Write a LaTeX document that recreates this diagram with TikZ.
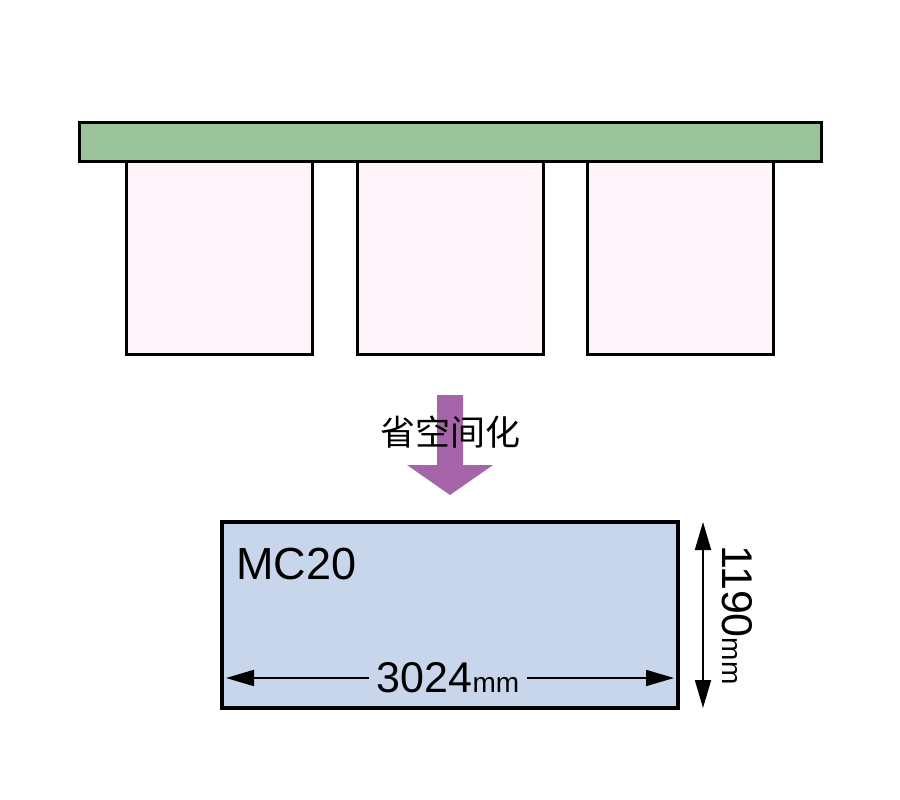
\documentclass[tikz,border=0pt]{standalone}
\usepackage{fontspec}
\setmainfont{Liberation Sans}
\newfontfamily\cjkfont{Noto Sans CJK SC}
\usetikzlibrary{arrows.meta}
\definecolor{barg}{HTML}{9BC49B}
\definecolor{pinkf}{HTML}{FEF4FA}
\definecolor{bluef}{HTML}{C8D6EC}
\definecolor{arrowp}{HTML}{A665A8}
\tikzset{
  px/.style={x=1pt,y=-1pt},
  boxline/.style={draw=black,line width=3pt},
  dimarrow/.style={line width=1.8pt,{Triangle[length=28pt,width=16pt]}-{Triangle[length=28pt,width=16pt]}},
  lbl/.style={inner sep=0pt,text=black},
  bigfont/.style={font=\fontsize{43}{43}\selectfont},
}
\newcommand{\smallmm}{{\fontsize{28}{28}\selectfont mm}}
\begin{document}
\begin{tikzpicture}[px]
\useasboundingbox[fill=white] (0,0) rectangle (900,800);
% pink boxes
\draw[boxline,fill=pinkf] (126,158) rectangle (312,354);
\draw[boxline,fill=pinkf] (357,158) rectangle (543,354);
\draw[boxline,fill=pinkf] (587,158) rectangle (773,354);
% green bar
\draw[boxline,fill=barg] (79,122) rectangle (821,161);
% down arrow
\fill[arrowp] (437,395) -- (463,395) -- (463,465) -- (493,465) -- (450,495) -- (407,465) -- (437,465) -- cycle;
\node[lbl,font=\cjkfont\fontsize{35}{35}\selectfont] (label) at (450,432) {省空间化};
% blue box
\node[draw=black,line width=4pt,fill=bluef,minimum width=456pt,minimum height=186pt,inner sep=0pt] (mc) at (450,615) {};
\node[lbl,anchor=base west,font=\fontsize{45}{45}\selectfont] (name) at (236,579) {MC20};
% horizontal dimension
\coordinate (hl) at (226,678);
\coordinate (hr) at (674,678);
\draw[dimarrow] (hl) -- (hr);
\node[lbl,fill=bluef,inner xsep=8pt,inner ysep=4pt,bigfont] (hw) at (448,678) {3024\smallmm};
% vertical dimension
\coordinate (vt) at (703,522);
\coordinate (vb) at (703,708);
\draw[dimarrow] (vt) -- (vb);
\node[lbl,rotate=-90,bigfont] (vh) at (737,615) {1190\smallmm};
\end{tikzpicture}
\end{document}
